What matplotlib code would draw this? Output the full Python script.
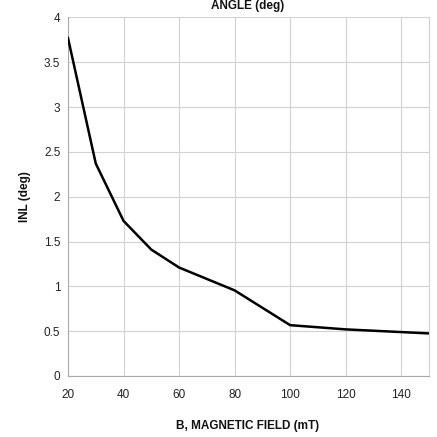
import matplotlib
matplotlib.use("Agg")
import matplotlib.pyplot as plt
from matplotlib.ticker import FuncFormatter

field_mT = [20, 30, 40, 50, 60, 80, 100, 120, 140, 150]
inl_deg = [3.77, 2.37, 1.73, 1.41, 1.21, 0.955, 0.567, 0.52, 0.49, 0.475]
x_ticks = [20, 40, 60, 80, 100, 120, 140]
y_ticks = [0, 0.5, 1, 1.5, 2, 2.5, 3, 3.5, 4]

plt.rcParams['font.family'] = ['Liberation Sans', 'DejaVu Sans']

fig = plt.figure(figsize=(4.37, 4.37), dpi=100)
ax = fig.add_axes([68/437, 1-376/437, (429-68)/437, (376-17.4)/437])

ax.plot(field_mT, inl_deg, color='black', lw=1.8, solid_joinstyle='miter', zorder=3)

ax.set_xlim(20, 150)
ax.set_ylim(0, 4)
ax.set_xticks(x_ticks)
ax.set_yticks(y_ticks)
ax.yaxis.set_major_formatter(FuncFormatter(lambda v, p: f"{v:g}"))
ax.grid(True, color='#d2d2d2', lw=0.8, zorder=0)
ax.tick_params(axis='both', length=0, labelsize=8.5, labelcolor='#222222')
ax.tick_params(axis='x', pad=9)
ax.tick_params(axis='y', pad=5.5)
ax.spines['top'].set_visible(False)
ax.spines['right'].set_color('#d2d2d2')
ax.spines['right'].set_linewidth(0.8)
for s in ['left', 'bottom']:
    ax.spines[s].set_color('#aaaaaa')
    ax.spines[s].set_linewidth(0.8)

fig.text(248/437, 1-426/437, 'B, MAGNETIC FIELD (mT)', ha='center', va='center',
         fontsize=8.5, fontweight='bold', color='#111111')
fig.text(25/437, 1-197/437, 'INL (deg)', ha='center', va='center', rotation=90,
         fontsize=8.5, fontweight='bold', color='#111111')
fig.text(248/437, 1-0.5/437, 'ANGLE (deg)', ha='center', va='top',
         fontsize=8.5, fontweight='bold', color='#111111')

fig.savefig('out.png', dpi=100)
